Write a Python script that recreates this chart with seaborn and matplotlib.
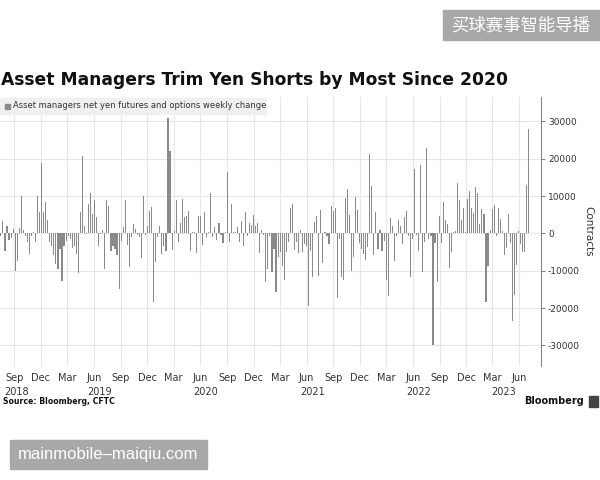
import numpy as np
import pandas as pd
import seaborn as sns
import matplotlib.pyplot as plt
import matplotlib.dates as mdates
from matplotlib.patches import Rectangle
from matplotlib.transforms import blended_transform_factory

# weekly change in asset managers' net yen futures & options positions (contracts)
weekly_change = [
    -600, 3200, -4800, 1900, -1700, -1200, 1300, -10000, -7400, 1500, 10000, 1000,
    -600, -2400, -5600, -600, 300, -2400, 10000, 5600, 18800, 5600, 8400, 3600,
    -2400, -3300, -5700, -8200, -9500, -4200, -12800, -3300, -2000, -600, -1500, -4000,
    -3300, -5500, -10600, 5600, 20700, 2000, -300, 7800, 10700, 5200, 8900, 4300,
    -3300, -200, 1000, -9500, 8900, 7400, -4800, -3300, -4200, -5700, -14800, -2000,
    1800, 8900, -3100, -9100, -900, 2600, 1200, -400, -1100, -6700, 10000, -400,
    1900, 6000, 7000, -18400, -7700, -1100, 2000, -5500, -3300, -4600, 31000, 22000,
    -4400, 700, 9000, -2400, 2900, 9300, 4400, 4700, 5900, -4800, 500,
    500, -5200, 4700, 4700, -3100, 5800, -1100, 300, 10700, -1100, 1600, -1700,
    2700, -400, -2600, 300, 16500, -2200, 7800, 300, 400, 1600, -2200, 3300,
    -3300, 5800, -600, 2700, 2300, 5000, 2000, 2900, -5200, 900, -400, -12900,
    -9500, -600, -10400, -4200, -15700, -6400, -5100, -8600, -12600, -5100, -2400,
    6700, 7800, -4400, -2400, -5200, 1000, -5100, -2800, -3300, -19500, -4800, -11700,
    3100, 4700, -11500, 6200, -7900, 300, -600, -2800, 7200, 5900, 6800, -17300,
    -1500, -11600, -12400, 9600, 12000, 4900, -10000, -6200, 9800, 6300, -2600, -4200,
    -5500, -7100, -3700, 21300, 12700, -5800, 5600, -4200, 1000, -4600,
    -2000, -12600, -16800, 4000, 1900, -7300, -600, 3600, 2000, -2800, 4300, 5900,
    -600, -11600, -1500, 17200, -400, -4600, 18300, -10400, -2200, 22900, -1500, -600,
    -29800, -2600, -13100, 4700, -2700, 8400, 3600, 2500, -9200, -5100, 400, 700,
    13600, 8900, 3600, 6700, 400, 9300, 11400, 6900, 5400, 12500, 10700,
    2500, 6500, 5300, -18400, -8600, 1000, 6500, 7600, -600, 6700, 3800, 700,
    -5700, -4000, 5200, -2600, -23500, -16600, -8400, 700, -2800, -5100, -5100, 13000,
    28000,
]
last_week = "2023-07-04"

month_ticks = ["2018-09-01", "2018-12-01", "2019-03-01", "2019-06-01", "2019-09-01",
               "2019-12-01", "2020-03-01", "2020-06-01", "2020-09-01", "2020-12-01",
               "2021-03-01", "2021-06-01", "2021-09-01", "2021-12-01", "2022-03-01",
               "2022-06-01", "2022-09-01", "2022-12-01", "2023-03-01", "2023-06-01"]
month_labels = ["Sep", "Dec", "Mar", "Jun"] * 5
year_labels = ["2018", "2019", "2020", "2021", "2022", "2023"]
year_label_dates = ["2018-09-10", "2019-06-20", "2020-06-20", "2021-06-20",
                    "2022-06-20", "2023-04-10"]
y_ticks = [-30000, -20000, -10000, 0, 10000, 20000, 30000]

dates = pd.date_range(end=last_week, periods=len(weekly_change), freq="7D")
df = pd.DataFrame({"week": mdates.date2num(dates), "change": weekly_change})

sns.set_theme(style="whitegrid")
plt.rcParams['font.family'] = ['DejaVu Sans', 'Noto Sans CJK SC']

fig = plt.figure(figsize=(6, 4.8), dpi=100)
ax = fig.add_axes([0.0, 0.2375, 0.9017, 0.5604])

sns.barplot(data=df, x="week", y="change", native_scale=True, color="#8a8a8a",
            saturation=1, width=0.55, linewidth=0, ax=ax)

ax.set_xlim(df["week"].iloc[0] - 3, df["week"].iloc[-1] + 42)
ax.set_ylim(-35500, 36500)
ax.grid(True, color="#e6e6e6", linewidth=0.8)
ax.set_axisbelow(True)

ax.set_xticks(mdates.date2num(pd.to_datetime(month_ticks)))
ax.set_xticklabels(month_labels)
ax.tick_params(axis="x", length=0, labelsize=7, pad=5, colors="#333333")
tr = blended_transform_factory(ax.transData, ax.transAxes)
for lab, d in zip(year_labels, year_label_dates):
    ax.text(mdates.date2num(pd.Timestamp(d)), -0.097, lab, transform=tr,
            ha="center", va="center", fontsize=7, color="#333333")

ax.yaxis.tick_right()
ax.yaxis.set_label_position("right")
ax.set_yticks(y_ticks)
ax.set_yticklabels([str(v) for v in y_ticks])
ax.tick_params(axis="y", right=True, length=3, width=0.8, color="#888888",
               labelsize=6.5, pad=2, labelcolor="#333333")
ax.set_ylabel("Contracts", rotation=270, fontsize=7.5, labelpad=10, color="#333333")
ax.set_xlabel("")

for side in ["left", "top", "bottom"]:
    ax.spines[side].set_visible(False)
ax.spines["right"].set_color("#888888")
ax.spines["right"].set_linewidth(0.8)

# title and legend
fig.text(0.002, 1 - 80 / 480, "Asset Managers Trim Yen Shorts by Most Since 2020",
         fontsize=12.3, fontweight="bold", va="center", ha="left", color="#111111")
fig.patches.append(Rectangle((0, 1 - 114 / 480), 266 / 600, 16 / 480,
                             transform=fig.transFigure, color="#f0f0f0", zorder=1))
fig.patches.append(Rectangle((5 / 600, 1 - 109 / 480), 5 / 600, 5 / 480,
                             transform=fig.transFigure, color="#8a8a8a", zorder=2))
fig.text(13 / 600, 1 - 106 / 480, "Asset managers net yen futures and options weekly change",
         fontsize=6.0, va="center", ha="left", color="#333333", zorder=3)

# footer
fig.text(3 / 600, 1 - 402 / 480, "Source: Bloomberg, CFTC", fontsize=5.6,
         fontweight="bold", va="center", ha="left", color="#111111")
fig.text(584 / 600, 1 - 401 / 480, "Bloomberg", fontsize=7, fontweight="bold",
         va="center", ha="right", color="#111111")
fig.patches.append(Rectangle((589 / 600, 1 - 407 / 480), 9 / 600, 11 / 480,
                             transform=fig.transFigure, color="#444444", zorder=2))

# watermarks
fig.patches.append(Rectangle((443 / 600, 1 - 40 / 480), 157 / 600, 30 / 480,
                             transform=fig.transFigure, color="#a8a8a8", zorder=1))
fig.text(521 / 600, 1 - 25 / 480, "买球赛事智能导播", fontsize=12.5, color="white",
         ha="center", va="center", family=["Noto Sans CJK SC", "DejaVu Sans"], zorder=3)
fig.patches.append(Rectangle((10 / 600, 1 - 469 / 480), 197 / 600, 29 / 480,
                             transform=fig.transFigure, color="#a8a8a8", zorder=1))
fig.text(108 / 600, 1 - 455 / 480, "mainmobile\u2013maiqiu.com", fontsize=12,
         color="white", ha="center", va="center",
         family=["Liberation Sans", "DejaVu Sans"], zorder=3)

fig.savefig("out.png", dpi=100, facecolor="white")
